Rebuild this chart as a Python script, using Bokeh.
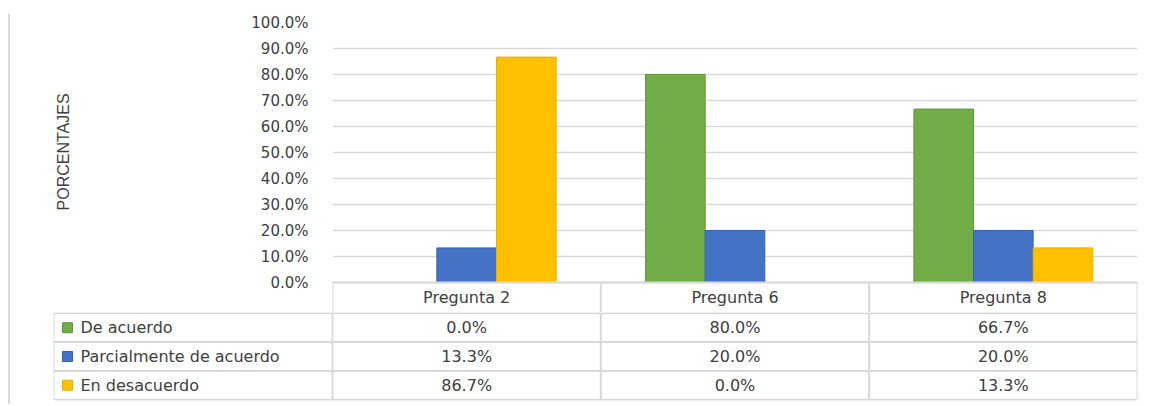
from bokeh.plotting import figure
from bokeh.layouts import column, row
from bokeh.models import Range1d, FixedTicker, NumeralTickFormatter, ColumnDataSource, Div
from bokeh.core.properties import value
from bokeh.embed import file_html
from bokeh.resources import INLINE

# ---------------- data ----------------
categories = ["Pregunta 2", "Pregunta 6", "Pregunta 8"]
series_names = ["De acuerdo", "Parcialmente de acuerdo", "En desacuerdo"]
de_acuerdo = [0.0, 80.0, 66.7]
parcialmente = [13.3, 20.0, 20.0]
desacuerdo = [86.7, 0.0, 13.3]
y_ticks = [0, 10, 20, 30, 40, 50, 60, 70, 80, 90, 100]
axis_title = "PORCENTAJES"

# ---------------- styles ----------------
colors = ["#70AD47", "#4472C4", "#FFC000"]
edge_colors = ["#5E9A3A", "#3563B4", "#E8AE00"]
grid_color = "#D9D9D9"
text_color = "#404040"
FONT = "DejaVu Sans"
series_values = [de_acuerdo, parcialmente, desacuerdo]
n = len(categories)
bar_w = 1.0 / 4.5
offsets = [-bar_w, 0.0, bar_w]

FIG_W = 1138
PX_PER_Y = 260.0          # pixels per 100 %
HEADER_PX = 30
hdr = HEADER_PX / PX_PER_Y

# ---------------- chart (with header row of the table) ----------------
p = figure(width=FIG_W, height=312, output_backend="svg", toolbar_location=None,
           x_range=Range1d(0, n), y_range=Range1d(-hdr, 1.0),
           x_axis_location=None, min_border_left=322, min_border_right=11,
           min_border_top=22, min_border_bottom=0, background_fill_color="white",
           border_fill_color="white", outline_line_color=None)
p.frame_align = False
p.xgrid.visible = False
p.ygrid.grid_line_color = grid_color
p.ygrid.grid_line_width = 1.5
p.ygrid.ticker = FixedTicker(ticks=[t / 100 for t in y_ticks])

ax = p.yaxis[0]
ax.ticker = FixedTicker(ticks=[t / 100 for t in y_ticks])
ax.formatter = NumeralTickFormatter(format="0.0%")
ax.bounds = (0, 1.0)
ax.axis_line_color = None
ax.major_tick_line_color = None
ax.minor_tick_line_color = None
ax.major_tick_out = 0
ax.major_tick_in = 0
ax.major_label_standoff = 24
ax.major_label_text_font = FONT
ax.major_label_text_font_size = "15px"
ax.major_label_text_color = text_color
# leading no-break spaces lift the rotated title to the centre of the 0-100 % span
ax.axis_label = "\u00a0" * 7 + axis_title
ax.axis_label_text_font = "Liberation Sans"
ax.axis_label_text_font_size = "16px"
ax.axis_label_text_font_style = "normal"
ax.axis_label_text_color = text_color
ax.axis_label_standoff = 176

for k, vals in enumerate(series_values):
    src = ColumnDataSource(dict(x=[i + 0.5 + offsets[k] for i in range(n)],
                                top=[v / 100 for v in vals]))
    p.vbar(x="x", top="top", width=bar_w, source=src, fill_color=colors[k],
           line_color=edge_colors[k], line_width=1)

# header row lines and labels
p.segment(x0=[0], x1=[n], y0=[0], y1=[0], line_color=grid_color, line_width=2)
hvx = list(range(n + 1))
p.segment(x0=hvx, x1=hvx, y0=[-hdr] * (n + 1), y1=[0] * (n + 1),
          line_color=grid_color, line_width=2)
p.text(x=[i + 0.5 for i in range(n)], y=[-hdr / 2] * n, text=categories,
       text_align="center", text_baseline="middle", text_font=value(FONT),
       text_font_size="16px", text_color=text_color)

# ---------------- data table body ----------------
L = (332 - 53) / ((1137 - 332) / n)
rows = len(series_names)
t = figure(width=FIG_W, height=90, output_backend="svg", toolbar_location=None,
           x_range=Range1d(-L, n), y_range=Range1d(-0.03, rows + 0.03),
           x_axis_location=None, y_axis_location=None,
           min_border_left=43, min_border_right=11, min_border_top=0, min_border_bottom=2,
           background_fill_color="white", border_fill_color="white", outline_line_color=None)
t.frame_align = False
t.grid.visible = False

# horizontal lines
hx0, hx1, hy = [], [], []
for r in range(rows + 1):
    hx0.append(-L); hx1.append(n); hy.append(r)
t.segment(x0=hx0, x1=hx1, y0=hy, y1=hy, line_color=grid_color, line_width=2)
# vertical lines
vx = [-L] + list(range(n + 1))
t.segment(x0=vx, x1=vx, y0=[0] * len(vx), y1=[rows] * len(vx),
          line_color=grid_color, line_width=2)

# rows
px_per_unit = (1137 - 332) / n
key_x = -L + (67 - 53) / px_per_unit
lab_x = -L + (80 - 53) / px_per_unit
for k, name in enumerate(series_names):
    yk = rows - k - 0.5
    t.scatter(x=[key_x], y=[yk], marker="square", size=10, fill_color=colors[k],
              line_color=edge_colors[k], line_width=1)
    t.text(x=[lab_x], y=[yk], text=[name], text_align="left", text_baseline="middle",
           text_font=value(FONT), text_font_size="16px", text_color=text_color)
    t.text(x=[i + 0.5 for i in range(n)], y=[yk] * n,
           text=[f"{v:.1f}%" for v in series_values[k]],
           text_align="center", text_baseline="middle", text_font=value(FONT),
           text_font_size="16px", text_color=text_color)

edge = Div(text="", width=2, height=390, margin=(14, 0, 0, 8),
           styles={"background-color": "#D9D9D9"})
layout = row(edge, column(p, t, spacing=0), spacing=0)
open("out.html", "w").write(file_html(layout, INLINE))
